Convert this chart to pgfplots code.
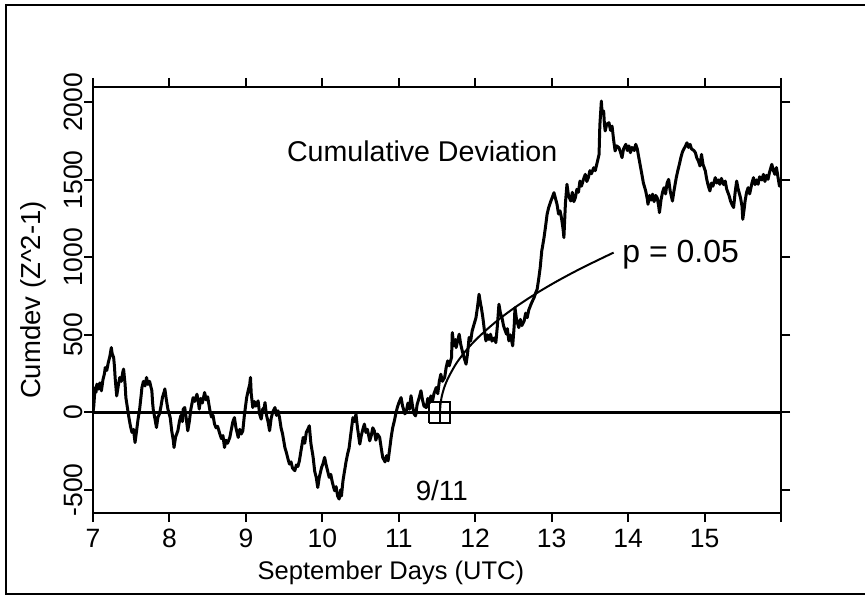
\documentclass[border=0pt]{standalone}
\usepackage{fontspec}
\setmainfont{Liberation Sans}
\usepackage{pgfplots}
\pgfplotsset{compat=1.18}
\begin{document}
\begin{tikzpicture}
\useasboundingbox (0pt,0pt) rectangle (432.5pt,298pt);
\draw[line width=1pt] (433pt,295.25pt) -- (2.75pt,295.25pt) -- (2.75pt,1pt) -- (433pt,1pt);
\begin{axis}[
 at={(46.5pt,41.5pt)}, anchor=south west, scale only axis, width=344pt, height=213pt,
 xmin=7, xmax=16, ymin=-650, ymax=2100,
 xtick={7,8,9,10,11,12,13,14,15,16}, xticklabels={7,8,9,10,11,12,13,14,15,{}},
 ytick={-500,0,500,1000,1500,2000}, yticklabels={-500,0,500,1000,1500,2000},
 tick pos=both, tick align=outside, major tick length=4.5pt,
 every tick/.style={black, line width=1pt},
 axis line style={line width=1pt},
 ticklabel style={font=\fontsize{13.25}{15}\selectfont},
 yticklabel style={rotate=90, anchor=south, inner sep=0.5pt},
 xlabel={September Days (UTC)}, ylabel={Cumdev (Z\textasciicircum 2-1)},
 every axis x label/.style={at={(axis description cs:0.433,-0.14)}, anchor=center, font=\fontsize{12.75}{15}\selectfont},
 every axis y label/.style={at={(axis description cs:-0.0872,0.5)}, rotate=90, anchor=center, font=\fontsize{13.75}{16}\selectfont},
]
\addplot[black, line width=1.5pt, line join=round] coordinates {
(7.00,0) (7.01,40) (7.02,110) (7.03,160) (7.04,130) (7.05,182) (7.07,150) (7.09,190) (7.11,139) (7.13,210)
(7.15,250) (7.16,289) (7.18,270) (7.20,321) (7.22,360) (7.24,418) (7.25,380) (7.27,354) (7.28,300) (7.29,220)
(7.31,106) (7.33,170) (7.35,225) (7.37,200) (7.39,260) (7.40,279) (7.42,180) (7.43,95) (7.45,30) (7.47,-34)
(7.49,-90) (7.51,-130) (7.53,-110) (7.55,-195) (7.57,-120) (7.59,-42) (7.61,20) (7.63,110) (7.64,160) (7.66,200)
(7.68,170) (7.70,225) (7.72,180) (7.74,200) (7.77,139) (7.78,60) (7.79,10) (7.81,-40) (7.83,-98) (7.85,-30)
(7.87,-10) (7.89,40) (7.91,100) (7.93,130) (7.94,151) (7.96,80) (7.98,20) (8.01,-34) (8.03,-120) (8.05,-180)
(8.06,-227) (8.08,-160) (8.11,-119) (8.13,-60) (8.15,-20) (8.17,-60) (8.18,20) (8.20,31) (8.22,-40) (8.24,-119)
(8.26,-60) (8.28,20) (8.31,95) (8.33,70) (8.36,117) (8.38,60) (8.39,21) (8.41,90) (8.43,60) (8.46,128)
(8.48,80) (8.50,100) (8.53,10) (8.55,-30) (8.57,-20) (8.59,-76) (8.61,-100) (8.63,-90) (8.66,-141) (8.68,-170)
(8.70,-150) (8.72,-227) (8.74,-180) (8.76,-200) (8.79,-162) (8.81,-110) (8.83,-60) (8.85,-34) (8.87,-100) (8.90,-162)
(8.92,-110) (8.94,-140) (8.96,-119) (8.98,-20) (9.01,95) (9.03,140) (9.05,180) (9.06,225) (9.07,120) (9.09,31)
(9.11,70) (9.13,40) (9.16,74) (9.18,-12) (9.20,-44) (9.22,20) (9.24,31) (9.25,63) (9.27,-20) (9.29,-60)
(9.31,-119) (9.33,-40) (9.35,0) (9.38,31) (9.40,-20) (9.42,10) (9.44,-34) (9.46,-100) (9.48,-140) (9.51,-227)
(9.53,-260) (9.55,-300) (9.57,-334) (9.59,-320) (9.61,-360) (9.64,-377) (9.66,-340) (9.68,-350) (9.70,-313) (9.72,-250)
(9.75,-162) (9.77,-200) (9.79,-130) (9.81,-110) (9.83,-87) (9.85,-200) (9.88,-291) (9.90,-380) (9.92,-420) (9.94,-485)
(9.96,-420) (9.99,-356) (10.01,-330) (10.03,-291) (10.05,-340) (10.07,-380) (10.09,-420) (10.11,-400) (10.13,-450) (10.16,-506)
(10.18,-480) (10.20,-540) (10.22,-560) (10.24,-500) (10.25,-540) (10.27,-442) (10.29,-380) (10.31,-320) (10.33,-270) (10.35,-230)
(10.37,-150) (10.40,-34) (10.42,-60) (10.44,-12) (10.46,-100) (10.49,-205) (10.51,-150) (10.53,-110) (10.55,-76) (10.57,-130)
(10.59,-110) (10.62,-184) (10.64,-150) (10.66,-100) (10.68,-119) (10.70,-180) (10.72,-140) (10.75,-162) (10.77,-230) (10.79,-291)
(10.82,-320) (10.84,-280) (10.86,-313) (10.88,-240) (10.90,-162) (10.92,-100) (10.94,-60) (10.96,-12) (10.98,30) (11.00,60)
(11.03,95) (11.05,40) (11.08,-10) (11.10,10) (11.12,60) (11.14,20) (11.16,107) (11.18,40) (11.20,-10) (11.22,-23)
(11.24,50) (11.27,100) (11.29,139) (11.31,80) (11.33,40) (11.36,31) (11.38,90) (11.40,60) (11.42,106) (11.44,70)
(11.46,120) (11.49,160) (11.51,120) (11.53,200) (11.55,246) (11.57,200) (11.60,225) (11.62,290) (11.64,332) (11.66,300)
(11.69,354) (11.70,515) (11.72,430) (11.74,470) (11.75,418) (11.77,460) (11.79,504) (11.81,440) (11.83,397) (11.85,360)
(11.88,311) (11.90,380) (11.92,483) (11.94,460) (11.96,526) (11.98,560) (12.01,611) (12.03,680) (12.05,762) (12.07,700)
(12.08,676) (12.10,611) (12.12,530) (12.14,461) (12.16,500) (12.18,470) (12.20,504) (12.22,460) (12.25,480) (12.27,450)
(12.29,560) (12.31,698) (12.33,640) (12.35,611) (12.37,560) (12.39,530) (12.41,504) (12.42,540) (12.44,461) (12.46,500)
(12.49,429) (12.51,560) (12.52,676) (12.54,600) (12.57,547) (12.59,600) (12.61,560) (12.64,590) (12.66,640) (12.68,611)
(12.70,660) (12.73,698) (12.75,720) (12.77,741) (12.79,770) (12.81,794) (12.83,860) (12.85,934) (12.87,1040) (12.90,1128)
(12.92,1200) (12.94,1278) (12.96,1320) (12.99,1364) (13.01,1390) (13.03,1418) (13.05,1380) (13.07,1343) (13.09,1280) (13.11,1300)
(13.13,1250) (13.15,1180) (13.16,1128) (13.18,1350) (13.20,1472) (13.22,1400) (13.25,1364) (13.27,1420) (13.29,1360) (13.31,1386)
(13.33,1440) (13.35,1420) (13.37,1493) (13.39,1460) (13.42,1510) (13.44,1536) (13.46,1490) (13.48,1515) (13.50,1560) (13.52,1540)
(13.55,1579) (13.57,1560) (13.60,1622) (13.62,1665) (13.63,1850) (13.65,2009) (13.66,1930) (13.68,1945) (13.69,1860) (13.70,1816)
(13.72,1860) (13.75,1869) (13.77,1820) (13.79,1848) (13.81,1760) (13.83,1687) (13.85,1720) (13.88,1708) (13.90,1680) (13.92,1644)
(13.94,1700) (13.97,1730) (13.99,1690) (14.01,1720) (14.03,1676) (14.05,1710) (14.08,1690) (14.10,1730) (14.12,1700) (14.14,1644)
(14.16,1590) (14.18,1536) (14.20,1480) (14.23,1429) (14.25,1380) (14.26,1343) (14.28,1400) (14.30,1370) (14.32,1408) (14.34,1360)
(14.36,1400) (14.38,1386) (14.40,1330) (14.41,1289) (14.43,1370) (14.45,1420) (14.47,1450) (14.49,1410) (14.51,1480) (14.53,1504)
(14.55,1430) (14.58,1364) (14.60,1430) (14.63,1515) (14.65,1560) (14.67,1600) (14.69,1644) (14.71,1680) (14.73,1700) (14.75,1719)
(14.77,1740) (14.79,1710) (14.81,1730) (14.83,1700) (14.86,1690) (14.88,1676) (14.90,1640) (14.92,1622) (14.94,1590) (14.96,1665)
(14.98,1600) (15.01,1558) (15.03,1500) (15.05,1460) (15.07,1429) (15.09,1480) (15.11,1460) (15.14,1515) (15.16,1480) (15.18,1500)
(15.20,1472) (15.22,1510) (15.25,1470) (15.27,1493) (15.29,1440) (15.32,1400) (15.34,1364) (15.36,1340) (15.38,1322) (15.40,1420)
(15.42,1493) (15.44,1440) (15.47,1386) (15.49,1330) (15.50,1246) (15.52,1320) (15.53,1364) (15.55,1420) (15.57,1450) (15.59,1410)
(15.62,1480) (15.64,1515) (15.66,1470) (15.68,1500) (15.70,1472) (15.72,1520) (15.75,1500) (15.77,1536) (15.79,1490) (15.81,1530)
(15.83,1504) (15.85,1550) (15.88,1601) (15.90,1560) (15.92,1536) (15.94,1580) (15.96,1520) (15.98,1460) (16.00,1500)
};
\addplot[black, line width=1pt, smooth] coordinates {
(11.54,0) (11.545,48) (11.56,97) (11.59,153) (11.64,216) (11.74,306) (11.84,375) (11.94,433) (12.04,484)
(12.19,551) (12.34,612) (12.54,684) (12.79,765) (13.04,838) (13.29,905) (13.54,967) (13.81,1031)
};
\addplot[black, line width=1.5pt] coordinates {(7,0) (16,0)};
\addplot[black, line width=1pt] coordinates {(11.40,-68) (11.674,-68) (11.674,68) (11.40,68) (11.40,-68)};
\addplot[black, line width=1pt] coordinates {(11.537,-68) (11.537,68)};
\node[anchor=base west, font=\fontsize{14.3}{17}\selectfont, inner sep=0pt] at (axis cs:9.533,1622) {Cumulative Deviation};
\node[anchor=base west, font=\fontsize{16}{19}\selectfont, inner sep=0pt] at (axis cs:13.92,964) {p = 0.05};
\node[anchor=base west, font=\fontsize{13.9}{16}\selectfont, inner sep=0pt] at (axis cs:11.217,-571) {9/11};
\end{axis}
\end{tikzpicture}
\end{document}
